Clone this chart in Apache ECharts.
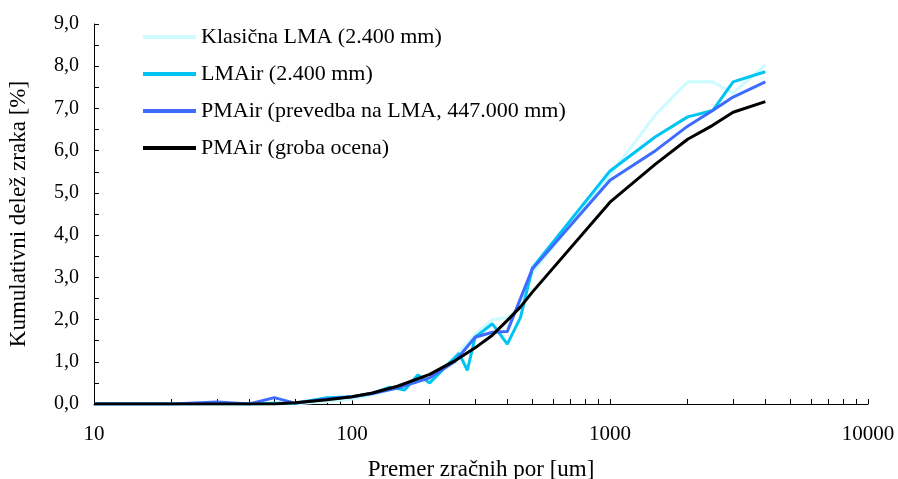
<!DOCTYPE html>
<html>
<head>
<meta charset="utf-8">
<script src="https://cdn.jsdelivr.net/npm/echarts@6/dist/echarts.min.js"></script>
<style>
  html, body { margin: 0; padding: 0; background: #fff; }
  #chart { width: 898px; height: 479px; }
</style>
</head>
<body>
<div id="chart"></div>
<script>
// velikosti por [um]
const xKlasicna = [10, 20, 30, 40, 50, 60, 80, 100, 120, 150, 200, 250, 300, 350, 400, 450, 500, 1000, 1500, 2000, 2500, 3000, 4000]
const yKlasicna = [0, 0, 0, 0, 0, 0, 0.06, 0.12, 0.22, 0.38, 0.62, 1.1, 1.65, 2.0, 2.05, 2.3, 3.1, 5.42, 6.85, 7.63, 7.63, 7.37, 8.03]

const xLMAir = [10, 20, 30, 40, 50, 60, 80, 100, 120, 140, 160, 180, 200, 260, 280, 300, 350, 400, 450, 500, 1000, 1500, 2000, 2500, 3000, 4000]
const yLMAir = [0, 0, 0, 0, 0.02, 0.02, 0.15, 0.17, 0.25, 0.4, 0.33, 0.69, 0.5, 1.2, 0.8, 1.58, 1.9, 1.42, 2.05, 3.22, 5.52, 6.33, 6.8, 6.95, 7.63, 7.87]

const xPrevedba = [10, 20, 30, 40, 50, 60, 80, 100, 120, 150, 200, 250, 300, 350, 400, 500, 1000, 1500, 2000, 2500, 3000, 4000]
const yPrevedba = [0, 0, 0.05, 0, 0.15, 0.02, 0.12, 0.17, 0.25, 0.38, 0.62, 1.0, 1.58, 1.7, 1.72, 3.2, 5.3, 6.0, 6.58, 6.95, 7.27, 7.63]

const xGroba = [10, 20, 30, 40, 50, 60, 80, 100, 120, 150, 200, 250, 300, 350, 400, 450, 500, 1000, 1500, 2000, 2500, 3000, 4000]
const yGroba = [0, 0, 0, 0, 0, 0.03, 0.1, 0.17, 0.26, 0.42, 0.7, 1.02, 1.33, 1.63, 1.98, 2.3, 2.65, 4.78, 5.68, 6.27, 6.6, 6.91, 7.16]

// oznake osi
const xLabelValues = [10, 100, 1000, 10000]
const xTickValues = []
for (const d of [10, 100, 1000]) for (let k = 1; k <= 9; k++) xTickValues.push(d * k)
xTickValues.push(10000)
const yLabelValues = [0, 1, 2, 3, 4, 5, 6, 7, 8, 9]
const yTickValues = [0, 0.5, 1, 1.5, 2, 2.5, 3, 3.5, 4, 4.5, 5, 5.5, 6, 6.5, 7, 7.5, 8, 8.5, 9]

const font = 'Liberation Serif'

const pairs = (xs, ys) => xs.map((x, i) => [x, ys[i]])

function line(name, xs, ys, color) {
  return {
    name,
    type: 'line',
    data: pairs(xs, ys),
    symbol: 'none',
    lineStyle: { color, width: 3 },
    itemStyle: { color },
    animation: false
  }
}

const chart = echarts.init(document.getElementById('chart'))
chart.setOption({
  backgroundColor: '#fff',
  textStyle: { fontFamily: font },
  grid: { left: 94, right: 30, top: 24, bottom: 75, containLabel: false, outerBoundsMode: 'none' },
  legend: {
    orient: 'vertical',
    left: 138,
    top: 21,
    itemWidth: 53,
    itemHeight: 4,
    itemGap: 15,
    icon: 'rect',
    textStyle: { fontFamily: font, fontSize: 22, lineHeight: 22, color: '#000' },
    data: ['Klasična LMA (2.400 mm)', 'LMAir (2.400 mm)', 'PMAir (prevedba na LMA, 447.000 mm)', 'PMAir (groba ocena)']
  },
  xAxis: {
    type: 'log',
    logBase: 10,
    min: 10,
    max: 10000,
    name: 'Premer zračnih por [um]',
    nameLocation: 'middle',
    nameGap: 54,
    nameTextStyle: { fontFamily: font, fontSize: 23, color: '#000' },
    axisLine: { lineStyle: { color: '#000', width: 1 } },
    axisTick: { inside: true, length: 5, customValues: xTickValues, lineStyle: { color: '#000' } },
    axisLabel: {
      customValues: xLabelValues,
      margin: 20,
      fontFamily: font,
      fontSize: 21,
      color: '#000',
      formatter: v => String(v)
    },
    splitLine: { show: false }
  },
  yAxis: {
    type: 'value',
    min: 0,
    max: 9,
    interval: 1,
    name: 'Kumulativni delež zraka [%]',
    nameLocation: 'middle',
    nameGap: 64,
    nameTextStyle: { fontFamily: font, fontSize: 23, color: '#000' },
    axisLine: { show: true, lineStyle: { color: '#000', width: 1 } },
    axisTick: { show: true, inside: true, length: 5, customValues: yTickValues, lineStyle: { color: '#000' } },
    axisLabel: {
      customValues: yLabelValues,
      margin: 15,
      fontFamily: font,
      fontSize: 20,
      color: '#000',
      formatter: v => v.toFixed(1).replace('.', ',')
    },
    splitLine: { show: false }
  },
  series: [
    line('Klasična LMA (2.400 mm)', xKlasicna, yKlasicna, '#ccfcff'),
    line('LMAir (2.400 mm)', xLMAir, yLMAir, '#00c4f2'),
    line('PMAir (prevedba na LMA, 447.000 mm)', xPrevedba, yPrevedba, '#3d6cff'),
    line('PMAir (groba ocena)', xGroba, yGroba, '#000000')
  ]
})
</script>
</body>
</html>
